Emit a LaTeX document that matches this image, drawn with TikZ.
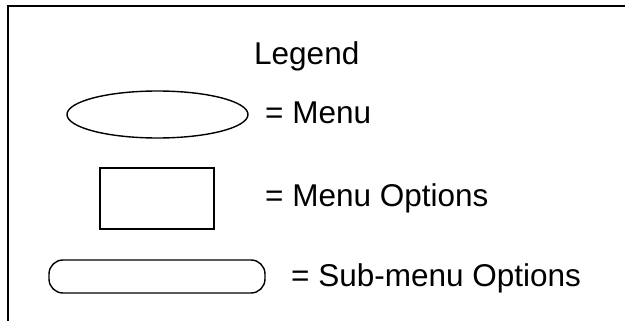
\documentclass[tikz,border=0pt]{standalone}
\usepackage{fontspec}
\setmainfont{Liberation Sans}
\usepackage{tikz}
\usetikzlibrary{shapes.geometric}

\begin{document}
\begin{tikzpicture}[x=1pt, y=-1pt,
        legtext/.style={anchor=base west, inner sep=0pt, font=\fontsize{31.5}{36}\selectfont},
        shape line/.style={draw, line width=1.4pt, inner sep=0pt}]

                    \useasboundingbox (0,0) rectangle (625,321);

                    % frame
                    \draw[line width=2pt] (7.5,321) -- (7.5,6.5) -- (625,6.5);

                    \node[legtext] (title) at (254,65) {Legend};

                    \node[shape line, ellipse, minimum width=181pt, minimum height=47pt] (menu) at (157.5,114.5) {};
                    \node[legtext] (menutext) at (265,123.5) {= Menu};

                    \node[shape line, rectangle, minimum width=114pt, minimum height=61pt] (option) at (157,198.5) {};
                    \node[legtext] (optiontext) at (265,207) {= Menu Options};

                    \node[shape line, rectangle, rounded corners=14pt, minimum width=216pt, minimum height=33pt] (submenu) at (157,276.5) {};
                    \node[legtext] (submenutext) at (291,287) {= Sub-menu Options};

\end{tikzpicture}
\end{document}
